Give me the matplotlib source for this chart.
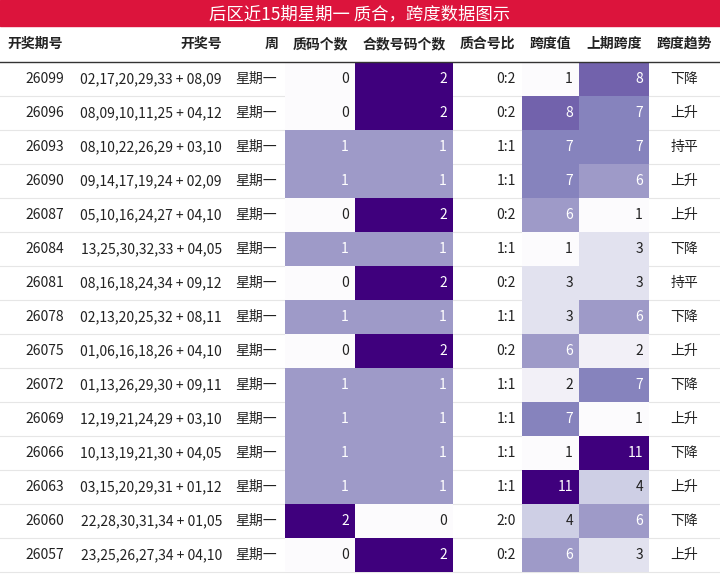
import matplotlib
matplotlib.use("Agg")
import matplotlib.pyplot as plt
from matplotlib.patches import Rectangle
from matplotlib import cm

plt.rcParams['font.family'] = ['Noto Sans CJK SC', 'DejaVu Sans']

title = "后区近15期星期一 质合，跨度数据图示"
headers = ["开奖期号", "开奖号", "周", "质码个数", "合数号码个数", "质合号比", "跨度值", "上期跨度", "跨度趋势"]
issues = ["26099","26096","26093","26090","26087","26084","26081","26078","26075","26072","26069","26066","26063","26060","26057"]
numbers = ["02,17,20,29,33 + 08,09","08,09,10,11,25 + 04,12","08,10,22,26,29 + 03,10","09,14,17,19,24 + 02,09",
           "05,10,16,24,27 + 04,10","13,25,30,32,33 + 04,05","08,16,18,24,34 + 09,12","02,13,20,25,32 + 08,11",
           "01,06,16,18,26 + 04,10","01,13,26,29,30 + 09,11","12,19,21,24,29 + 03,10","10,13,19,21,30 + 04,05",
           "03,15,20,29,31 + 01,12","22,28,30,31,34 + 01,05","23,25,26,27,34 + 04,10"]
weekday = ["星期一"] * 15
prime_cnt = [0,0,1,1,0,1,0,1,0,1,1,1,1,2,0]
comp_cnt = [2,2,1,1,2,1,2,1,2,1,1,1,1,0,2]
ratio = ["0:2","0:2","1:1","1:1","0:2","1:1","0:2","1:1","0:2","1:1","1:1","1:1","1:1","2:0","0:2"]
span = [1,8,7,7,6,1,3,3,6,2,7,1,11,4,6]
prev_span = [8,7,7,6,1,3,3,6,2,7,1,11,4,6,3]
trend = ["下降","上升","持平","上升","上升","下降","持平","下降","上升","下降","上升","下降","上升","下降","上升"]

W, H = 720, 574
fig = plt.figure(figsize=(W/100, H/100), dpi=100)
ax = fig.add_axes([0, 0, 1, 1])
ax.set_xlim(0, W); ax.set_ylim(H, 0); ax.axis('off')

edges = [0, 70, 228, 285, 355, 453, 522, 579, 649, 720]
title_h, head_h, row_h = 26, 36, 34
cmap = cm.get_cmap('Purples')

ax.add_patch(Rectangle((0, 0), W, title_h, color='#dc143c'))
ax.text(W/2, title_h/2 + 1, title, color='white', fontsize=12.5, ha='center', va='center')

def cell_text(i, y, s, color='#222222', bold=False):
    l, r = edges[i], edges[i+1]
    if i in (0, 1, 3, 4, 5, 6, 7):
        ax.text(r - 6, y, s, ha='right', va='center', fontsize=10, color=color, fontweight='bold' if bold else 'normal')
    else:
        ax.text((l + r)/2, y, s, ha='center', va='center', fontsize=10, color=color, fontweight='bold' if bold else 'normal')

hy = title_h + head_h/2
for i, h in enumerate(headers):
    l, r = edges[i], edges[i+1]
    if i in (0, 2, 8, 3, 4, 5, 6, 7):
        ax.text((l + r)/2 if i not in (2,) else r - 6, hy, h, ha='center' if i != 2 else 'right', va='center', fontsize=10, fontweight='bold', color='#222222')
    else:
        ax.text(r - 6, hy, h, ha='right', va='center', fontsize=10, fontweight='bold', color='#222222')
ax.plot([0, W], [title_h + head_h, title_h + head_h], color='#333333', lw=1)

def shade(i, y0, v, vmin, vmax):
    t = (v - vmin) / (vmax - vmin)
    ax.add_patch(Rectangle((edges[i], y0), edges[i+1]-edges[i], row_h, color=cmap(t), lw=0))
    cell_text(i, y0 + row_h/2, str(v), color='white' if t >= 0.45 else '#222222')

for r in range(15):
    y0 = title_h + head_h + r*row_h
    yc = y0 + row_h/2
    cell_text(0, yc, issues[r])
    cell_text(1, yc, numbers[r])
    cell_text(2, yc, weekday[r])
    shade(3, y0, prime_cnt[r], 0, 2)
    shade(4, y0, comp_cnt[r], 0, 2)
    cell_text(5, yc, ratio[r])
    shade(6, y0, span[r], 1, 11)
    shade(7, y0, prev_span[r], 1, 11)
    cell_text(8, yc, trend[r])
    ax.plot([0, W], [y0 + row_h, y0 + row_h], color='#e6e6e6', lw=0.8, zorder=0)

fig.savefig("out.png", dpi=100)
